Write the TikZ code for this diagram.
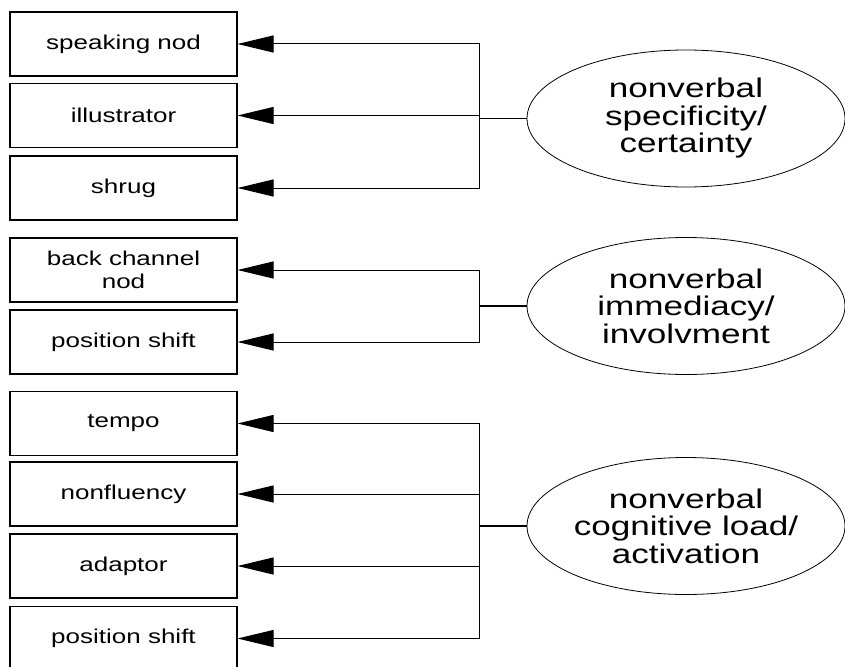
\documentclass[tikz,border=0pt]{standalone}
\usepackage{fontspec}
\setmainfont[FakeStretch=1.3]{Liberation Sans}
\usetikzlibrary{arrows.meta,shapes.geometric}

\begin{document}
\begin{tikzpicture}[x=1pt,y=-1pt,
  item/.style={draw, line width=1.1pt, minimum width=227pt, minimum height=64pt,
    inner sep=0pt, align=center, font=\fontsize{20}{23}\selectfont},
  factor/.style={draw, ellipse, line width=0.8pt, minimum width=318pt,
    minimum height=137pt, inner sep=0pt, align=center,
    font=\fontsize{27}{27.5}\selectfont},
  link/.style={line width=1pt, -{Triangle[length=36pt,width=17pt]}},
  stub/.style={line width=1.3pt}]
\useasboundingbox (0,0) rectangle (845,666);
\clip (0,0) rectangle (845,666);

% behaviour boxes
\node[item] (a1) at (123.5,44)    {speaking nod};
\node[item] (a2) at (123.5,115.5) {illustrator};
\node[item] (a3) at (123.5,188)   {shrug};

\node[item] (b1) at (123.5,270)   {back channel\\nod};
\node[item] (b2) at (123.5,342)   {position shift};

\node[item] (c1) at (123.5,423.5) {tempo};
\node[item] (c2) at (123.5,494)   {nonfluency};
\node[item] (c3) at (123.5,566)   {adaptor};
\node[item] (c4) at (123.5,638.5) {position shift};

% factor ellipses
\node[factor] (f1) at (686,118.5) {nonverbal\\specificity/\\certainty};
\node[factor] (f2) at (686,306)   {nonverbal\\immediacy/\\involvment};
\node[factor] (f3) at (686,526)   {nonverbal\\cognitive load/\\activation};

% junction points of the brackets
\path (f1.west) ++(-47,0) coordinate (j1);
\path (f2.west) ++(-47,0) coordinate (j2);
\path (f3.west) ++(-47,0) coordinate (j3);

\draw[stub] (f1.west) -- (j1);
\draw[stub] (f2.west) -- (j2);
\draw[stub] (f3.west) -- (j3);

\foreach \t in {a1,a2,a3} \draw[link] (j1) |- (\t.east);
\foreach \t in {b1,b2}    \draw[link] (j2) |- (\t.east);
\foreach \t in {c1,c2,c3,c4} \draw[link] (j3) |- (\t.east);
\end{tikzpicture}
\end{document}
